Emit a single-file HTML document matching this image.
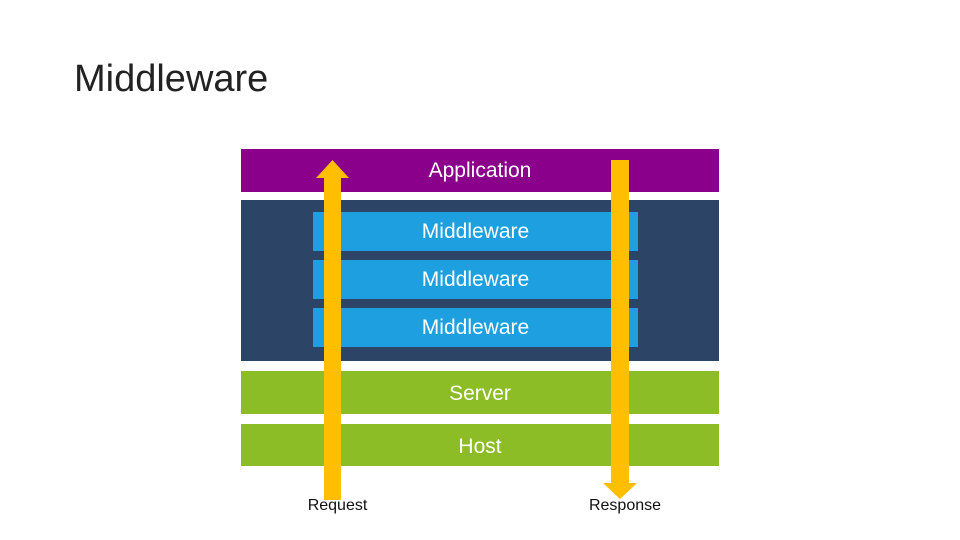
<!DOCTYPE html>
<html><head><style>
body{margin:0;width:960px;height:540px;background:#fff;position:relative;overflow:hidden;font-family:"Liberation Sans",sans-serif}
div{position:absolute}
.t{color:#fff;font-size:21px;text-align:center;font-weight:300}
</style></head><body>
<div style="left:74px;top:58px;font-size:38px;color:#222">Middleware</div>
<div class="t" style="left:241px;top:149px;width:478px;height:43px;background:#8b008b;line-height:43px;padding-left:0">Application</div>
<div style="left:241px;top:200px;width:478px;height:161px;background:#2c4566"></div>
<div class="t" style="left:313px;top:212px;width:325px;height:39px;background:#1ea0e0;line-height:40px">Middleware</div>
<div class="t" style="left:313px;top:260px;width:325px;height:39px;background:#1ea0e0;line-height:40px">Middleware</div>
<div class="t" style="left:313px;top:308px;width:325px;height:39px;background:#1ea0e0;line-height:40px">Middleware</div>
<div class="t" style="left:241px;top:371px;width:478px;height:43px;background:#8cbd26;line-height:45px">Server</div>
<div class="t" style="left:241px;top:424px;width:478px;height:42px;background:#8cbd26;line-height:45px">Host</div>
<svg style="position:absolute;left:0;top:0" width="960" height="540">
<rect x="324" y="177" width="17" height="323" fill="#ffbf00"/>
<polygon points="316,178 349,178 332.5,160" fill="#ffbf00"/>
<rect x="611" y="160" width="18" height="324" fill="#ffbf00"/>
<polygon points="603,483 637,483 620,499" fill="#ffbf00"/>
</svg>
<div style="left:300px;top:497px;width:75px;text-align:center;font-size:16px;color:#111">Request</div>
<div style="left:584px;top:497px;width:82px;text-align:center;font-size:16px;color:#111">Response</div>
</body></html>
